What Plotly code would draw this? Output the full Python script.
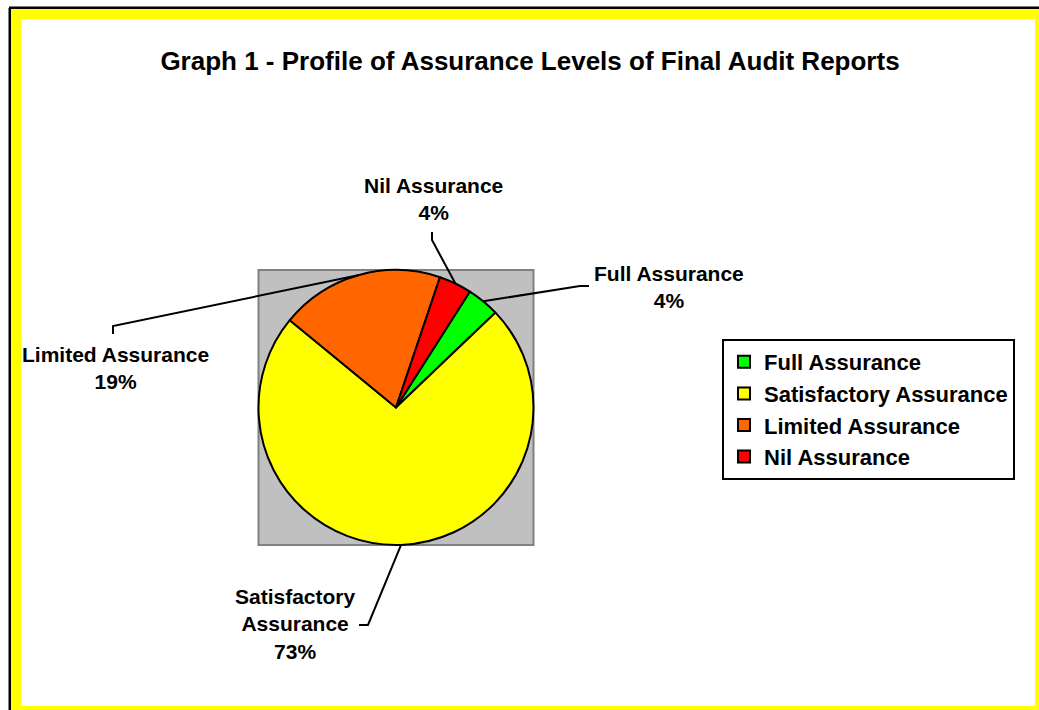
import math
import plotly.graph_objects as go

# ---- data ----
categories = ["Full Assurance", "Satisfactory Assurance", "Limited Assurance", "Nil Assurance"]
counts = [1, 19, 5, 1]
colors = ["#00FF00", "#FFFF00", "#FF6600", "#FF0000"]
label_texts = ["Full Assurance<br>4%", "Satisfactory<br>Assurance<br>73%",
               "Limited Assurance<br>19%", "Nil Assurance<br>4%"]
title_text = "Graph 1 - Profile of Assurance Levels of Final Audit Reports"

W, H = 1039, 710
FONT = "Arial, Liberation Sans, sans-serif"

def px(x):
    return x / W

def py(y):
    return 1 - y / H

# pie geometry (screen pixels)
CX, CY, R = 396, 407.5, 137.5
ROT = 32.5

fig = go.Figure()
fig.add_trace(go.Pie(
    labels=categories, values=counts, sort=False, direction="clockwise",
    rotation=ROT, textinfo="none", hoverinfo="label+percent",
    marker=dict(colors=colors, line=dict(color="black", width=2)),
    domain=dict(x=[px(CX - R), px(CX + R)], y=[py(CY + R), py(CY - R)]),
))

shapes = []
# outer frame: black edge + yellow band
shapes.append(dict(type="line", xref="paper", yref="paper", x0=px(10), y0=py(8), x1=px(10), y1=py(720),
                   line=dict(color="black", width=3), layer="below"))
shapes.append(dict(type="line", xref="paper", yref="paper", x0=px(9), y0=py(8), x1=px(1050), y1=py(8),
                   line=dict(color="black", width=3), layer="below"))
shapes.append(dict(type="rect", xref="paper", yref="paper", x0=px(16), y0=py(14), x1=px(1040), y1=py(711),
                   line=dict(color="#FFFF00", width=10), fillcolor="rgba(0,0,0,0)", layer="below"))
# gray plot-area square behind the pie
shapes.append(dict(type="rect", xref="paper", yref="paper", x0=px(CX - R), y0=py(CY + R), x1=px(CX + R), y1=py(CY - R),
                   line=dict(color="#808080", width=2), fillcolor="#C0C0C0", layer="below"))

# leader lines: slice edge (from data) -> elbow points (label positions)
total = sum(counts)
cum = 0
edge = []
for v in counts:
    mid = math.radians(ROT + 360 * (cum + v / 2) / total)
    edge.append((CX + R * math.sin(mid), CY - R * math.cos(mid)))
    cum += v

elbows = [
    [(580, 286), (589, 286)],   # Full
    [(368, 625), (359, 625)],   # Satisfactory
    [(113, 326), (113, 334)],   # Limited
    [(432, 240), (432, 232)],   # Nil
]
label_pos = [(669, 287), (295, 624), (115, 368), (433, 199)]

for (ex, ey), pts in zip(edge, elbows):
    path = "M {} {}".format(px(ex), py(ey))
    for (x, y) in pts:
        path += " L {} {}".format(px(x), py(y))
    shapes.append(dict(type="path", xref="paper", yref="paper", path=path,
                       line=dict(color="black", width=2)))

annotations = []
for txt, (lx, ly) in zip(label_texts, label_pos):
    annotations.append(dict(text=txt, xref="paper", yref="paper", x=px(lx), y=py(ly),
                            xanchor="center", yanchor="middle", showarrow=False,
                            font=dict(family=FONT, size=21, color="black", weight="bold"),
                            align="center"))

fig.update_layout(
    width=W, height=H,
    margin=dict(l=0, r=0, t=0, b=0),
    paper_bgcolor="white", plot_bgcolor="white",
    title=dict(text=title_text, x=px(530), y=py(61), xanchor="center", yanchor="middle",
               font=dict(family=FONT, size=26, color="black", weight="bold")),
    showlegend=True,
    legend=dict(x=px(722), y=py(339), xanchor="left", yanchor="top",
                bgcolor="white", bordercolor="black", borderwidth=2,
                font=dict(family=FONT, size=22, color="black", weight="bold"),
                traceorder="normal"),
    shapes=shapes, annotations=annotations,
)

fig.write_html("out.html", config={"displayModeBar": False},
               post_script="document.body.style.margin='0px';document.body.style.overflow='hidden';")
